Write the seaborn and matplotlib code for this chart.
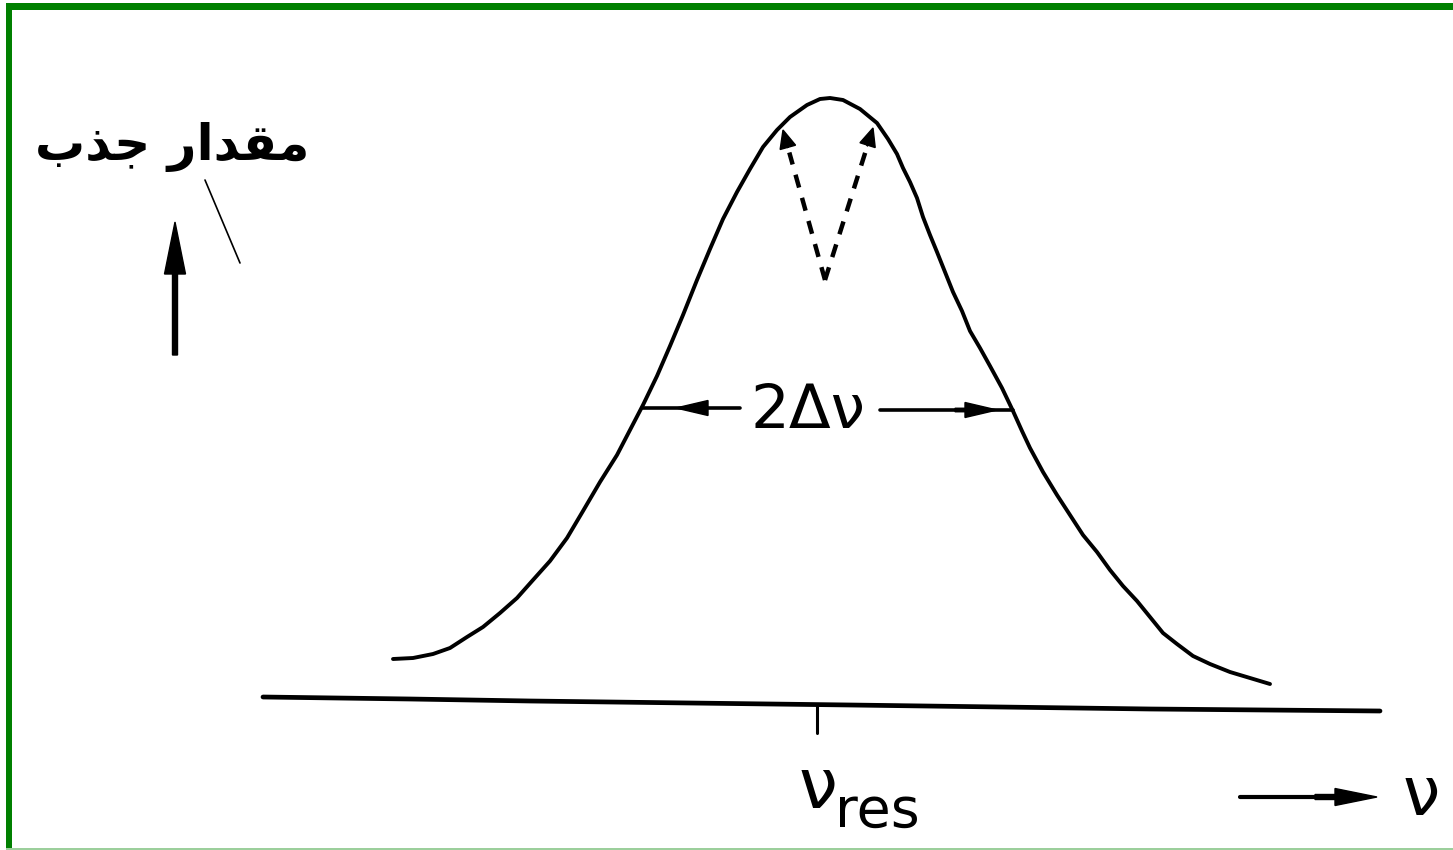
import matplotlib
matplotlib.use("Agg")
import matplotlib.pyplot as plt
from matplotlib.patches import Rectangle
import seaborn as sns

sns.set_theme(style="white")
plt.rcParams["font.family"] = ["DejaVu Sans"]

# Absorption line profile: frequency offset from resonance vs. absorption (arb. units)
nu = [-4.27, -4.07, -3.87, -3.70, -3.53, -3.37, -3.20, -3.03, -2.87, -2.70,
      -2.53, -2.37, -2.20, -2.03, -1.90, -1.77, -1.63, -1.50, -1.37, -1.23,
      -1.10, -0.97, -0.83, -0.70, -0.57, -0.43, -0.30, -0.13, 0.00, 0.10,
      0.23, 0.40, 0.57, 0.68, 0.77, 0.83, 0.90, 0.97, 1.03, 1.10,
      1.17, 1.25, 1.33, 1.42, 1.50, 1.60, 1.70, 1.82, 1.93, 2.02,
      2.10, 2.23, 2.37, 2.50, 2.63, 2.77, 2.90, 3.03, 3.17, 3.30,
      3.43, 3.57, 3.73, 3.90, 4.10, 4.30, 4.50]
absorption = [0.41, 0.42, 0.46, 0.52, 0.63, 0.73, 0.87, 1.02, 1.20, 1.39,
              1.62, 1.89, 2.18, 2.45, 2.70, 2.95, 3.24, 3.54, 3.85, 4.20,
              4.51, 4.81, 5.08, 5.31, 5.53, 5.70, 5.83, 5.95, 6.01, 6.02,
              6.00, 5.91, 5.77, 5.61, 5.46, 5.32, 5.18, 5.02, 4.83, 4.65,
              4.48, 4.28, 4.08, 3.89, 3.69, 3.52, 3.34, 3.12, 2.89, 2.69,
              2.52, 2.28, 2.05, 1.85, 1.65, 1.48, 1.30, 1.14, 0.99, 0.83,
              0.67, 0.56, 0.44, 0.36, 0.28, 0.22, 0.16]

# Frequency axis (hand-drawn, slightly sloping)
axis_nu = [-5.57, -4.10, -2.90, 0.30, 3.30, 5.60]
axis_level = [0.03, 0.01, -0.01, -0.05, -0.09, -0.11]

# Half-width markers
half_level = 2.92
half_left, half_right = -1.77, 1.93

# Hole burnt at the line centre
dip_bottom = (0.05, 4.20)
dip_left_top = (-0.37, 5.70)
dip_right_top = (0.53, 5.72)

y_label = "\uFE8F\uFEAC\uFE9F \uFEAD\uFE8D\uFEAA\uFED8\uFEE3"  # مقدار جذب
half_label = "2Δν"
res_symbol, res_sub = "ν", "res"
freq_symbol = "ν"

W, H = 1453, 850
fig = plt.figure(figsize=(W / 100, H / 100), dpi=100)
ax = fig.add_axes([0, 0, 1, 1])
ax.set_xlim(-8.20, 6.33)
ax.set_ylim(-1.50, 7.00)
ax.axis("off")

ink = "#000000"
narrow = "Liberation Sans Narrow"

# profile and frequency axis
sns.lineplot(x=nu, y=absorption, sort=False, estimator=None, color=ink,
             lw=2.8, ax=ax)
sns.lineplot(x=axis_nu, y=axis_level, sort=False, estimator=None, color=ink,
             lw=3.4, ax=ax)

# resonance tick and label
ax.plot([-0.03, -0.03], [-0.04, -0.33], color=ink, lw=2.2)
ax.text(-0.21, -1.08, res_symbol, fontsize=50, ha="left", va="baseline",
        family=narrow, color=ink)
ax.text(0.15, -1.27, res_sub, fontsize=40, ha="left", va="baseline",
        family=narrow, color=ink)

# frequency direction arrow
ax.plot([4.20, 5.20], [-0.97, -0.97], color=ink, lw=3.0)
ax.arrow(4.95, -0.97, 0.62, 0.0, width=0.05, head_width=0.17, head_length=0.42,
         length_includes_head=True, color=ink)
ax.text(5.83, -1.15, freq_symbol, fontsize=48, ha="left", va="baseline",
        family=narrow, color=ink)

# 2Δν width arrows
ax.text(-0.12, 2.88, half_label, fontsize=44, ha="center", va="center",
        family=narrow, color=ink)
ax.plot([half_left, -0.80], [half_level, half_level], color=ink, lw=2.6)
ax.arrow(-1.12, half_level, -0.32, 0.0, width=0.035, head_width=0.15,
         head_length=0.32, length_includes_head=True, color=ink)
ax.plot([0.60, half_right], [half_level - 0.02, half_level - 0.02], color=ink, lw=2.6)
ax.arrow(1.35, half_level - 0.02, 0.42, 0.0, width=0.035, head_width=0.15,
         head_length=0.32, length_includes_head=True, color=ink)

# dashed dip with small heads at the shoulders
for top in (dip_left_top, dip_right_top):
    dx = top[0] - dip_bottom[0]
    dy = top[1] - dip_bottom[1]
    ax.plot([dip_bottom[0], dip_bottom[0] + 0.85 * dx],
            [dip_bottom[1], dip_bottom[1] + 0.85 * dy],
            color=ink, lw=3.2, dashes=(3.0, 2.4))
    ax.arrow(dip_bottom[0] + 0.88 * dx, dip_bottom[1] + 0.88 * dy,
             0.12 * dx, 0.12 * dy, width=0.0, head_width=0.16,
             head_length=0.18, length_includes_head=True, color=ink)

# vertical axis arrow and label
ax.arrow(-6.45, 3.45, 0.0, 1.33, width=0.05, head_width=0.21, head_length=0.52,
         length_includes_head=True, color=ink)
ax.plot([-6.15, -5.80], [5.20, 4.37], color=ink, lw=1.2)
ax.text(-6.48, 5.40, y_label, fontsize=36, ha="center", va="baseline",
        family="DejaVu Sans", fontweight="bold", color=ink)

# green frame
green = "#008000"
fig.add_artist(Rectangle((6 / W, 1 - 10 / H), 1 - 6 / W, 7 / H,
                         transform=fig.transFigure, color=green, lw=0))
fig.add_artist(Rectangle((6 / W, 0), 6 / W, 1 - 3 / H,
                         transform=fig.transFigure, color=green, lw=0))
fig.add_artist(Rectangle((6 / W, 0), 1 - 6 / W, 2 / H,
                         transform=fig.transFigure, color="#9ccf9c", lw=0))

fig.savefig("out.png", dpi=100, facecolor="white")
